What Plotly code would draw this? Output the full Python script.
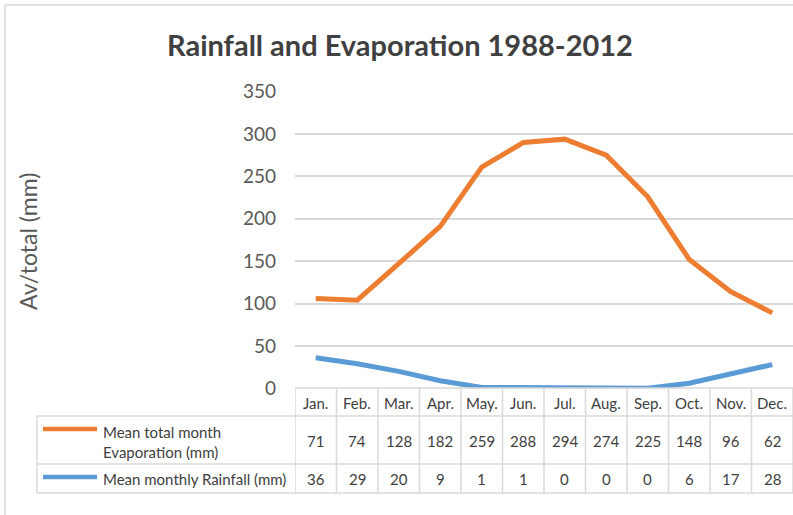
import plotly.graph_objects as go

W, H = 793, 515

months = ["Jan.", "Feb.", "Mar.", "Apr.", "May.", "Jun.", "Jul.", "Aug.", "Sep.", "Oct.", "Nov.", "Dec."]
# values as drawn by the line
evap_line = [106, 104, 147, 191, 261, 290, 294, 275, 226, 152, 114, 89]
rain_line = [36, 29, 20, 9, 1, 1, 0, 0, 0, 6, 17, 28]
# values as printed in the data table
evap_table = [71, 74, 128, 182, 259, 288, 294, 274, 225, 148, 96, 62]
rain_table = [36, 29, 20, 9, 1, 1, 0, 0, 0, 6, 17, 28]
y_ticks = [0, 50, 100, 150, 200, 250, 300, 350]

evap_name = "Mean total month<br>Evaporation (mm)"
rain_name = "Mean monthly Rainfall (mm)"
ORANGE = "#ED7D31"
BLUE = "#5B9BD5"
GRID = "#d9d9d9"
FONT = "Lato"


def px(x):
    return x / W


def py(y):
    return 1 - y / H


xs = list(range(len(months)))

fig = go.Figure()
fig.add_trace(go.Scatter(x=xs, y=rain_line, mode="lines",
                         line=dict(color=BLUE, width=5), name=rain_name, showlegend=False))
fig.add_trace(go.Scatter(x=xs, y=evap_line, mode="lines",
                         line=dict(color=ORANGE, width=5), name=evap_name, showlegend=False))

shapes = []
line_style = dict(color=GRID, width=1.5)
# horizontal table lines
shapes.append(dict(type="line", xref="paper", yref="paper", x0=px(295), x1=1, y0=py(388), y1=py(388), line=line_style))
for yy in [416, 464, 493]:
    shapes.append(dict(type="line", xref="paper", yref="paper", x0=px(37), x1=1, y0=py(yy), y1=py(yy), line=line_style))
# vertical table lines
shapes.append(dict(type="line", xref="paper", yref="paper", x0=px(37), x1=px(37), y0=py(416), y1=py(493), line=line_style))
for k in range(len(months) + 1):
    shapes.append(dict(type="line", xref="x", yref="paper", x0=k - 0.5, x1=k - 0.5, y0=py(388), y1=py(493), line=line_style))
# legend keys
shapes.append(dict(type="line", xref="paper", yref="paper", x0=px(43), x1=px(97), y0=py(429), y1=py(429), line=dict(color=ORANGE, width=4.5)))
shapes.append(dict(type="line", xref="paper", yref="paper", x0=px(43), x1=px(97), y0=py(477), y1=py(477), line=dict(color=BLUE, width=4.5)))
# chart border (left/top)
shapes.append(dict(type="line", xref="paper", yref="paper", x0=px(5), x1=px(5), y0=0, y1=py(5), line=dict(color=GRID, width=1.5)))
shapes.append(dict(type="line", xref="paper", yref="paper", x0=px(5), x1=1, y0=py(5), y1=py(5), line=dict(color=GRID, width=1.5)))

ann = []
tfont = dict(family=FONT, size=15, color="#404040")
for i, m in enumerate(months):
    ann.append(dict(x=i, y=py(403), xref="x", yref="paper", text=m, showarrow=False,
                    xanchor="center", yanchor="middle", font=tfont))
    ann.append(dict(x=i, y=py(441), xref="x", yref="paper", text=str(evap_table[i]), showarrow=False,
                    xanchor="center", yanchor="middle", font=tfont))
    ann.append(dict(x=i, y=py(479), xref="x", yref="paper", text=str(rain_table[i]), showarrow=False,
                    xanchor="center", yanchor="middle", font=tfont))
ann.append(dict(x=px(101), y=py(442), xref="paper", yref="paper", text=evap_name, showarrow=False,
                xanchor="left", yanchor="middle", align="left", font=tfont))
ann.append(dict(x=px(101), y=py(479), xref="paper", yref="paper", text=rain_name, showarrow=False,
                xanchor="left", yanchor="middle", align="left", font=tfont))
ann.append(dict(x=px(28), y=py(242), xref="paper", yref="paper", text="Av/total (mm)", showarrow=False,
                textangle=-90, xanchor="center", yanchor="middle",
                font=dict(family=FONT, size=23, color="#595959")))
ann.append(dict(x=px(400), y=py(45), xref="paper", yref="paper", text="<b>Rainfall and Evaporation 1988-2012</b>",
                showarrow=False, xanchor="center", yanchor="middle",
                font=dict(family=FONT, size=29, color="#404040")))

fig.update_layout(
    width=W, height=H,
    margin=dict(l=0, r=0, t=0, b=0, pad=0),
    paper_bgcolor="white", plot_bgcolor="white",
    shapes=shapes, annotations=ann,
    xaxis=dict(domain=[px(295), 1], range=[-0.5, 11.5], showticklabels=False, showgrid=False,
               zeroline=False, showline=False, ticks="", automargin=False),
    yaxis=dict(domain=[py(388.3), py(91.7)], range=[0, 350], tickvals=y_ticks,
               showgrid=True, gridcolor=GRID, gridwidth=1.5, zeroline=False, showline=False,
               ticks="", ticklabelstandoff=18, automargin=False,
               tickfont=dict(family=FONT, size=19, color="#595959")),
)

fig.write_html("out.html")
